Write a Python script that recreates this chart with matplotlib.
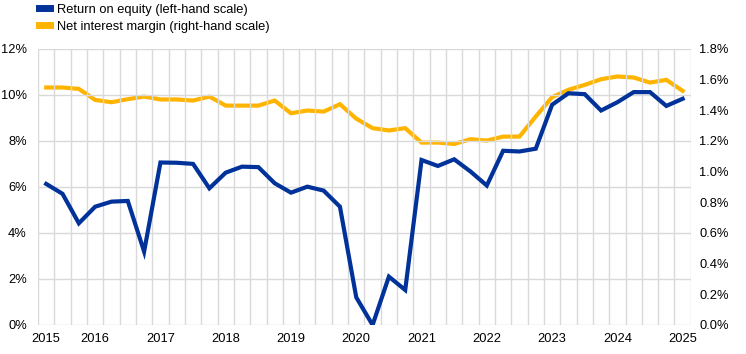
import numpy as np
import matplotlib.pyplot as plt

plt.rcParams["font.family"] = ["Liberation Sans", "DejaVu Sans"]

# quarterly observations, 2015 to 2025
roe = [6.13, 5.70, 4.42, 5.14, 5.36, 5.39, 3.19, 7.06, 7.05, 7.00,
       5.94, 6.62, 6.88, 6.86, 6.16, 5.75, 6.01, 5.84, 5.14, 1.20,
       0.00, 2.10, 1.52, 7.17, 6.91, 7.20, 6.67, 6.06, 7.57, 7.54,
       7.66, 9.57, 10.07, 10.03, 9.32, 9.68, 10.12, 10.12, 9.52, 9.83]
nim = [1.548, 1.548, 1.539, 1.467, 1.452, 1.472, 1.489, 1.470, 1.470, 1.463,
       1.489, 1.430, 1.430, 1.430, 1.463, 1.380, 1.398, 1.391, 1.439, 1.345,
       1.283, 1.268, 1.283, 1.189, 1.189, 1.180, 1.211, 1.202, 1.228, 1.228,
       1.359, 1.485, 1.533, 1.565, 1.602, 1.620, 1.613, 1.580, 1.598, 1.526]
year_labels = ["2015", "2016", "2017", "2018", "2019", "2020",
               "2021", "2022", "2023", "2024", "2025"]
label_pos = [0, 3, 7, 11, 15, 19, 23, 27, 31, 35, 39]

blue = "#003299"
yellow = "#FFB400"
grid = "#d9d9d9"
fs = 9.3

fig = plt.figure(figsize=(7.46, 3.54), dpi=100)
ax = fig.add_axes([0.051, 0.082, 0.875, 0.78])
ax2 = ax.twinx()

x = np.arange(len(roe))
ax2.plot(x, nim, color=yellow, lw=3, solid_joinstyle="miter", zorder=3)
ax.plot(x, roe, color=blue, lw=3, solid_joinstyle="miter", zorder=3)
ax.set_zorder(ax2.get_zorder() + 1)
ax.patch.set_visible(False)

ax.set_xlim(-0.5, len(roe) - 0.5)
ax.set_ylim(0, 12)
ax2.set_ylim(0, 1.8)
ax.set_yticks(np.arange(0, 13, 2))
ax.set_yticklabels([f"{v}%" for v in range(0, 13, 2)])
ax2.set_yticks(np.arange(0, 1.81, 0.2))
ax2.set_yticklabels([f"{v:.1f}%" for v in np.arange(0, 1.81, 0.2)])

ax.set_xticks(label_pos)
ax.set_xticklabels(year_labels)
ax.set_xticks(np.arange(-0.5, len(roe)), minor=True)
ax.grid(True, which="minor", axis="x", color=grid, lw=1)
ax.grid(True, which="major", axis="y", color=grid, lw=1)
ax.set_axisbelow(True)

for a in (ax, ax2):
    for s in a.spines.values():
        s.set_visible(False)
    a.tick_params(which="both", length=0, labelsize=fs, colors="#000000")
ax.tick_params(axis="x", pad=6)
ax.tick_params(axis="y", pad=8)
ax2.tick_params(axis="y", pad=6)

handles = [plt.Line2D([], [], color=blue, lw=5),
           plt.Line2D([], [], color=yellow, lw=5)]
fig.legend(handles, ["Return on equity (left-hand scale)",
                     "Net interest margin (right-hand scale)"],
           loc="upper left", bbox_to_anchor=(0.052, 0.99), frameon=False,
           fontsize=fs, handlelength=0.9, handletextpad=0.5,
           labelspacing=0.4, borderaxespad=0, borderpad=0)

fig.savefig("out.png", dpi=100)
